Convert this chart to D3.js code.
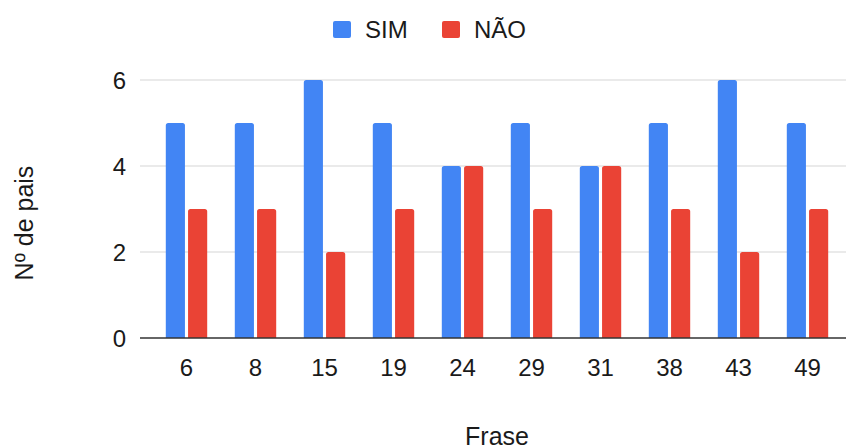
<!DOCTYPE html>
<html>
<head>
<meta charset="utf-8">
<script src="https://cdn.jsdelivr.net/npm/d3@7"></script>
<style>
  body { margin: 0; background: #fff; }
  text { font-family: "Liberation Sans", Arial, sans-serif; fill: #1a1a1a; }
</style>
</head>
<body>
<script>
// dados
const frases = ["6", "8", "15", "19", "24", "29", "31", "38", "43", "49"];
const sim = [5, 5, 6, 5, 4, 5, 4, 5, 6, 5];
const nao = [3, 3, 2, 3, 4, 3, 4, 3, 2, 3];
const series = ["SIM", "NÃO"];
const yTicks = [0, 2, 4, 6];

const width = 846;
const height = 448;
const cores = { "SIM": "#4285f4", "NÃO": "#ea4335" };

const datos = frases.map((f, i) => ({ frase: f, valores: [sim[i], nao[i]] }));

const svg = d3.select("body")
  .append("svg")
  .attr("width", width)
  .attr("height", height);

const escalaY = d3.scaleLinear()
  .domain([0, 6])
  .range([338, 80]);

const escalaX = d3.scaleBand()
  .domain(frases)
  .range([152, 842])
  .paddingInner(0.4)
  .paddingOuter(0.2);

const escalaSerie = d3.scaleBand()
  .domain(series)
  .range([0, escalaX.bandwidth()])
  .paddingInner(0.14);

// grade
svg.append("g")
  .selectAll("line")
  .data(yTicks.filter(d => d > 0))
  .enter()
  .append("line")
  .attr("x1", 140)
  .attr("x2", width)
  .attr("y1", d => escalaY(d))
  .attr("y2", d => escalaY(d))
  .attr("stroke", "#d6d6d6")
  .attr("stroke-width", 1.2);

// eixo y
const ejeY = d3.axisLeft(escalaY)
  .tickValues(yTicks)
  .tickFormat(d3.format("d"))
  .tickSize(0)
  .tickPadding(0);
const gY = svg.append("g")
  .attr("transform", "translate(126,0)")
  .call(ejeY);
gY.select(".domain").remove();
gY.selectAll("text")
  .style("font-size", "24px")
  .attr("dy", "0.35em")
  .attr("fill", "#1a1a1a");

// barras com topo arredondado
function barra(x, y, w, h, r) {
  r = Math.min(r, h, w / 2);
  return "M" + x + "," + (y + h) +
    "V" + (y + r) +
    "Q" + x + "," + y + " " + (x + r) + "," + y +
    "H" + (x + w - r) +
    "Q" + (x + w) + "," + y + " " + (x + w) + "," + (y + r) +
    "V" + (y + h) + "Z";
}

const grupos = svg.append("g")
  .selectAll("g")
  .data(datos)
  .enter()
  .append("g")
  .attr("transform", d => "translate(" + escalaX(d.frase) + ",0)");

grupos.selectAll("path")
  .data(d => d.valores.map((v, i) => ({ serie: series[i], valor: v })))
  .enter()
  .append("path")
  .attr("d", d => barra(escalaSerie(d.serie), escalaY(d.valor),
    escalaSerie.bandwidth(), escalaY(0) - escalaY(d.valor), 2.5))
  .attr("fill", d => cores[d.serie]);

// linha de base
svg.append("line")
  .attr("x1", 140)
  .attr("x2", width)
  .attr("y1", escalaY(0))
  .attr("y2", escalaY(0))
  .attr("stroke", "#333")
  .attr("stroke-width", 1.5);

// eixo x
const ejeX = d3.axisBottom(escalaX)
  .tickSize(0)
  .tickPadding(0);
const gX = svg.append("g")
  .attr("transform", "translate(0,376)")
  .call(ejeX);
gX.select(".domain").remove();
gX.selectAll("text")
  .style("font-size", "24px")
  .attr("dy", 0)
  .attr("fill", "#1a1a1a");

// titulos
svg.append("text")
  .attr("x", 497)
  .attr("y", 445)
  .attr("text-anchor", "middle")
  .style("font-size", "25px")
  .text("Frase");

svg.append("text")
  .attr("transform", "translate(33,223) rotate(-90)")
  .attr("text-anchor", "middle")
  .style("font-size", "25px")
  .text("Nº de pais");

// legenda
const legendX = [333, 442];
const leyenda = svg.append("g")
  .selectAll("g")
  .data(series)
  .enter()
  .append("g")
  .attr("transform", (d, i) => "translate(" + legendX[i] + ",21)");
leyenda.append("rect")
  .attr("width", 18)
  .attr("height", 17)
  .attr("rx", 2)
  .attr("fill", d => cores[d]);
leyenda.append("text")
  .attr("x", 32)
  .attr("y", 17)
  .style("font-size", "24px")
  .text(d => d);
</script>
</body>
</html>
